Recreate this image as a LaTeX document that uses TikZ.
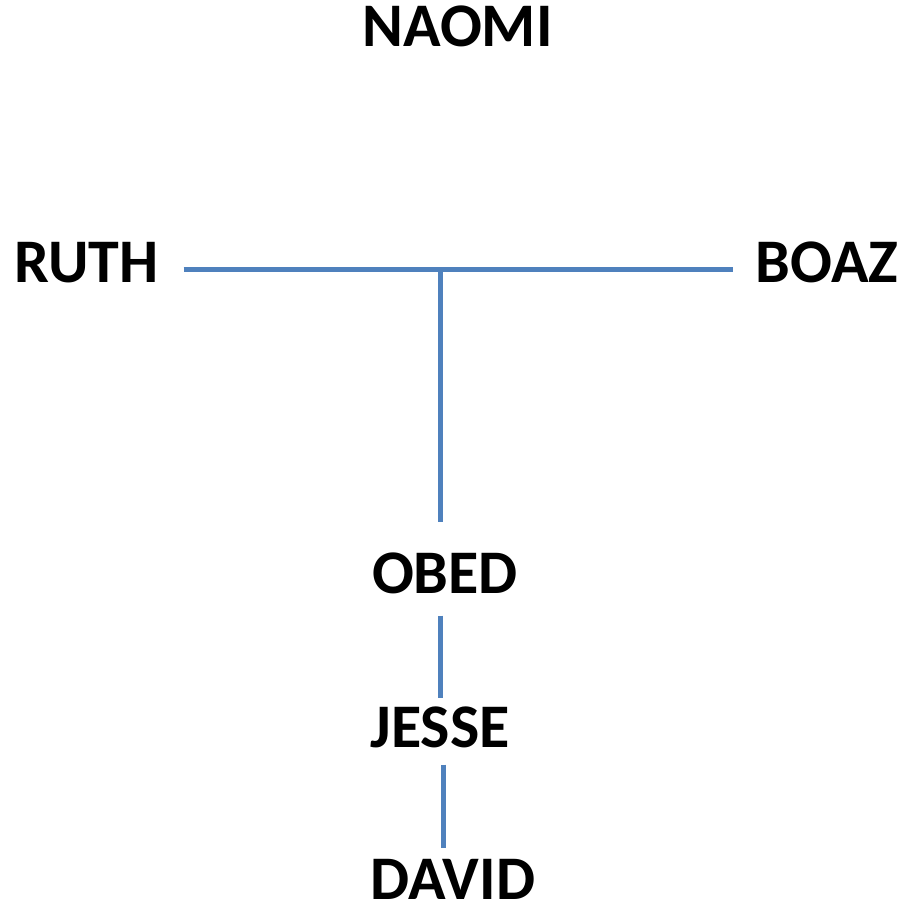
\documentclass[tikz,border=0pt]{standalone}
\usepackage{fontspec}
\setmainfont{Carlito}
\usetikzlibrary{calc}
\definecolor{linkblue}{HTML}{4F81BD}
\begin{document}
\begin{tikzpicture}[x=1pt,y=1pt,
  person/.style={inner sep=0pt, anchor=base, font=\fontsize{62}{70}\selectfont\bfseries},
  link/.style={draw=linkblue, line width=5pt}]
\useasboundingbox (0,0) rectangle (907,-909);
\fill[white] (0,0) rectangle (907,-909);
\node[person] (naomi) at (457.5,-47) {NAOMI};
\node[person] (ruth) at (86.5,-282) {RUTH};
\node[person] (boaz) at (827,-282) {BOAZ};
\node[person] (obed) at (445,-593) {OBED};
\node[person] (jesse) at (440,-747) {JESSE};
\node[person] (david) at (453,-899) {DAVID};
\coordinate (m) at (440,-269);
\coordinate (x1) at (440,0);
\coordinate (x2) at (443,0);
\draw[link] ($(ruth.east |- m)+(25,0)$) -- ($(boaz.west |- m)+(-22,0)$);
\draw[link] (m) -- ($(m |- obed.north)+(0,30)$);
\draw[link] ($(x1 |- obed.south)+(0,-22)$) -- ($(x1 |- jesse.north)+(0,8)$);
\draw[link] ($(x2 |- jesse.south)+(0,-17)$) -- ($(x2 |- david.north)+(0,11)$);
\end{tikzpicture}
\end{document}
